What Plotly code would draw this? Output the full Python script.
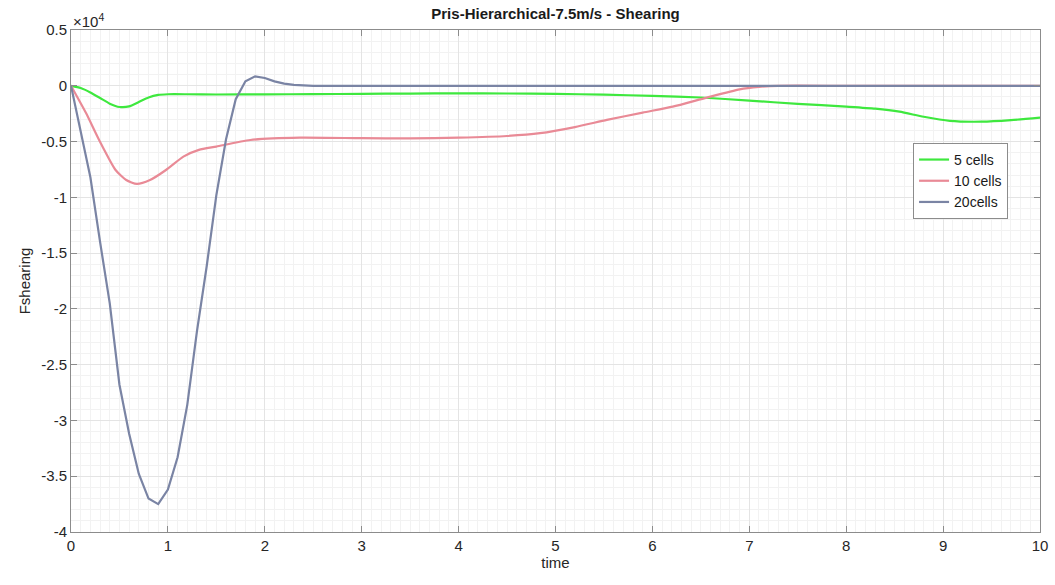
import plotly.graph_objects as go

# ---- data (Fshearing in N) ----
t_5 = [0, 0.1, 0.2, 0.3, 0.4, 0.5, 0.6, 0.7, 0.8, 0.9, 1.0, 1.2, 1.5, 2.0, 2.5, 3.0, 3.5, 4.0,
       4.5, 5.0, 5.5, 6.0, 6.5, 7.0, 7.5, 8.0, 8.3, 8.55, 8.8, 9.07, 9.4, 9.7, 10.0]
f_5 = [0, -200, -600, -1100, -1600, -1900, -1850, -1450, -1050, -820, -760, -760, -780, -770,
       -750, -720, -700, -680, -690, -720, -800, -900, -1050, -1330, -1620, -1870, -2050,
       -2320, -2780, -3150, -3220, -3080, -2850]

t_10 = [0, 0.155, 0.29, 0.46, 0.57, 0.68, 0.815, 0.98, 1.16, 1.32, 1.5, 1.85, 2.36, 3.0, 3.5,
        4.0, 4.5, 4.84, 5.2, 5.53, 5.9, 6.21, 6.56, 6.9, 7.1, 7.3, 8.0, 9.0, 10.0]
f_10 = [0, -2450, -4860, -7550, -8450, -8800, -8450, -7550, -6350, -5750, -5450, -4860, -4650,
        -4700, -4720, -4650, -4500, -4250, -3700, -3060, -2400, -1870, -1060, -320, -100, 0,
        0, 0, 0]

t_20 = [0, 0.1, 0.2, 0.3, 0.4, 0.5, 0.6, 0.7, 0.8, 0.9, 1.0, 1.1, 1.2, 1.3, 1.4, 1.5, 1.6,
        1.7, 1.8, 1.9, 2.0, 2.1, 2.2, 2.3, 2.4, 2.5, 3, 4, 5, 6, 7, 8, 9, 10]
f_20 = [0, -4000, -8200, -14000, -19500, -26800, -31200, -34800, -37000, -37500, -36200,
        -33300, -28600, -22000, -16200, -9800, -4800, -1200, 400, 850, 700, 400, 200, 80,
        30, 0, 0, 0, 0, 0, 0, 0, 0, 0]

series_names = ["5 cells", "10 cells", "20cells"]
y_ticks = [0.5, 0, -0.5, -1, -1.5, -2, -2.5, -3, -3.5, -4]
x_ticks = list(range(0, 11))
scale = 1e4

fig = go.Figure()
fig.add_trace(go.Scatter(x=t_5, y=[v / scale for v in f_5], name=series_names[0], mode="lines",
                         line=dict(color="#3ee83e", width=2.2, shape="spline", smoothing=0.6)))
fig.add_trace(go.Scatter(x=t_10, y=[v / scale for v in f_10], name=series_names[1], mode="lines",
                         line=dict(color="#e98a96", width=2.2, shape="spline", smoothing=0.6)))
fig.add_trace(go.Scatter(x=t_20, y=[v / scale for v in f_20], name=series_names[2], mode="lines",
                         line=dict(color="#7a84a4", width=2.2)))

axis_common = dict(
    showline=True, linecolor="#8c8c8c", linewidth=1, mirror="ticks",
    ticks="inside", ticklen=6, tickcolor="#8c8c8c",
    showgrid=True, gridcolor="#e4e4e4", gridwidth=1, zeroline=False,
    automargin=False,
    tickfont=dict(family="Liberation Sans, Arial", size=15, color="#262626"),
)

fig.update_xaxes(range=[0, 10], tickvals=x_ticks, ticktext=[str(v) for v in x_ticks],
                 minor=dict(dtick=0.1, showgrid=True, gridcolor="#f2f2f2", ticks=""),
                 title=dict(text="time", font=dict(family="Liberation Sans, Arial", size=15, color="#262626"),
                            standoff=4),
                 **axis_common)
fig.update_yaxes(range=[-4, 0.5], tickvals=y_ticks, ticktext=[f"{v:g}" for v in y_ticks],
                 minor=dict(dtick=0.1, showgrid=True, gridcolor="#f2f2f2", ticks=""),
                 title=dict(text="Fshearing", font=dict(family="Liberation Sans, Arial", size=15, color="#262626"),
                            standoff=6),
                 **axis_common)

fig.update_layout(
    width=1055, height=585,
    margin=dict(l=71, r=15, t=30, b=53),
    paper_bgcolor="white", plot_bgcolor="white",
    title=dict(text="<b>Pris-Hierarchical-7.5m/s - Shearing</b>", x=0.5, xref="paper", xanchor="center",
               y=0.985, yanchor="top",
               font=dict(family="Liberation Sans, Arial", size=15, color="#1a1a1a")),
    legend=dict(x=0.869, y=0.775, xanchor="left", yanchor="top", bgcolor="white",
                bordercolor="#8c8c8c", borderwidth=1,
                font=dict(family="Liberation Sans, Arial", size=14, color="#1a1a1a"),
                tracegroupgap=0, itemwidth=30),
    showlegend=True,
    annotations=[dict(text="×10<sup>4</sup>", xref="paper", yref="paper", x=0, y=1,
                      xanchor="left", yanchor="bottom", showarrow=False, yshift=-2,
                      font=dict(family="Liberation Sans, Arial", size=15, color="#262626"))],
)

fig.write_html("out.html")
